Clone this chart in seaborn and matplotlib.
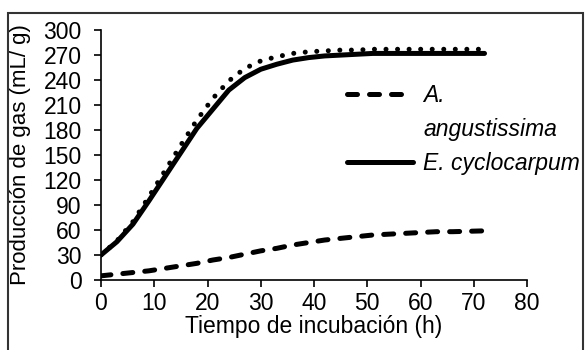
import matplotlib
matplotlib.use("Agg")
import matplotlib.pyplot as plt
import seaborn as sns
from matplotlib.lines import Line2D
from matplotlib.patches import Rectangle

# ── Data ──────────────────────────────────────────────────────
hours = [0, 3, 6, 9, 12, 15, 18, 21, 24, 27, 30, 33, 36,
         39, 42, 45, 48, 51, 54, 57, 60, 63, 66, 69, 72]

# E. cyclocarpum, observed (solid)
e_cyclocarpum = [30, 46, 67, 95, 124, 153, 182, 205, 228, 243, 253, 259, 264,
                 267, 269, 270, 271, 272, 272, 272, 272, 272, 272, 272, 272]

# E. cyclocarpum, second curve (dotted)
e_cyclocarpum_dot = [30, 47, 70, 100, 131, 162, 192, 218, 239, 254, 263, 268, 272,
                     274, 275, 276, 276, 277, 277, 277, 277, 277, 277, 277, 277]

# A. angustissima (dashed)
a_angustissima = [5, 7, 9, 11, 14, 17, 20, 24, 27, 31, 35, 38, 42,
                  45, 48, 50, 52, 54, 55, 56, 57, 58, 58, 58.5, 59]

x_ticks = list(range(0, 81, 10))
y_ticks = list(range(0, 301, 30))

# ── Style ─────────────────────────────────────────────────────
sns.set_theme(style="white")
plt.rcParams['font.family'] = ['Liberation Sans', 'DejaVu Sans']
plt.rcParams['text.color'] = 'black'

FS = 16.5
LW = 3.6
DASHED = (2.0, 2.4)
DOTTED = (0.01, 2.3)

fig = plt.figure(figsize=(5.87, 3.5), dpi=100)
ax = fig.add_axes([0.172, 0.2, 0.726, 0.714])

# dotted curve first, solid on top
sns.lineplot(x=hours, y=e_cyclocarpum_dot, ax=ax, color='black', lw=LW)
ln = ax.lines[-1]
ln.set_dashes(DOTTED)
ln.set_dash_capstyle('round')

sns.lineplot(x=hours, y=e_cyclocarpum, ax=ax, color='black', lw=LW)
ax.lines[-1].set_solid_capstyle('round')

sns.lineplot(x=hours, y=a_angustissima, ax=ax, color='black', lw=LW)
ln = ax.lines[-1]
ln.set_dashes(DASHED)
ln.set_dash_capstyle('round')

ax.set_xlim(0, 80)
ax.set_ylim(0, 300)
ax.set_xticks(x_ticks)
ax.set_yticks(y_ticks)

sns.despine(ax=ax)
for side in ['left', 'bottom']:
    ax.spines[side].set_color('black')
    ax.spines[side].set_linewidth(1.2)
ax.tick_params(bottom=True, left=True, direction='out', length=5, width=1.2,
               colors='black', labelsize=FS)
ax.tick_params(axis='y', pad=9)
ax.tick_params(axis='x', pad=4)

ax.set_xlabel('Tiempo de incubación (h)', fontsize=FS, color='black', labelpad=0)
ax.set_ylabel('Producción de gas (mL/ g)', fontsize=16, color='black')
ax.yaxis.set_label_coords(-0.165, 0.5)

# legend: dashed entry wraps onto a second line with no handle
dash_h = Line2D([], [], color='black', lw=LW, dash_capstyle='round')
dash_h.set_dashes(DASHED)
blank_h = Line2D([], [], color='none')
solid_h = Line2D([], [], color='black', lw=LW)
leg = ax.legend([dash_h, blank_h, solid_h],
                ['A.', 'angustissima', 'E. cyclocarpum'],
                loc='upper left', bbox_to_anchor=(0.591, 0.759),
                bbox_transform=fig.transFigure, frameon=False,
                prop={'style': 'italic', 'size': FS}, labelcolor='black',
                handlelength=2.9, handletextpad=0.42, labelspacing=0.48,
                borderpad=0, borderaxespad=0)

# outer border round the figure (bottom edge cut off)
fig.add_artist(Rectangle((8 / 587, -0.05), 575 / 587, 1.013,
                         transform=fig.transFigure, fill=False,
                         ec='#333333', lw=1.5))

fig.savefig('out.png', dpi=100)
